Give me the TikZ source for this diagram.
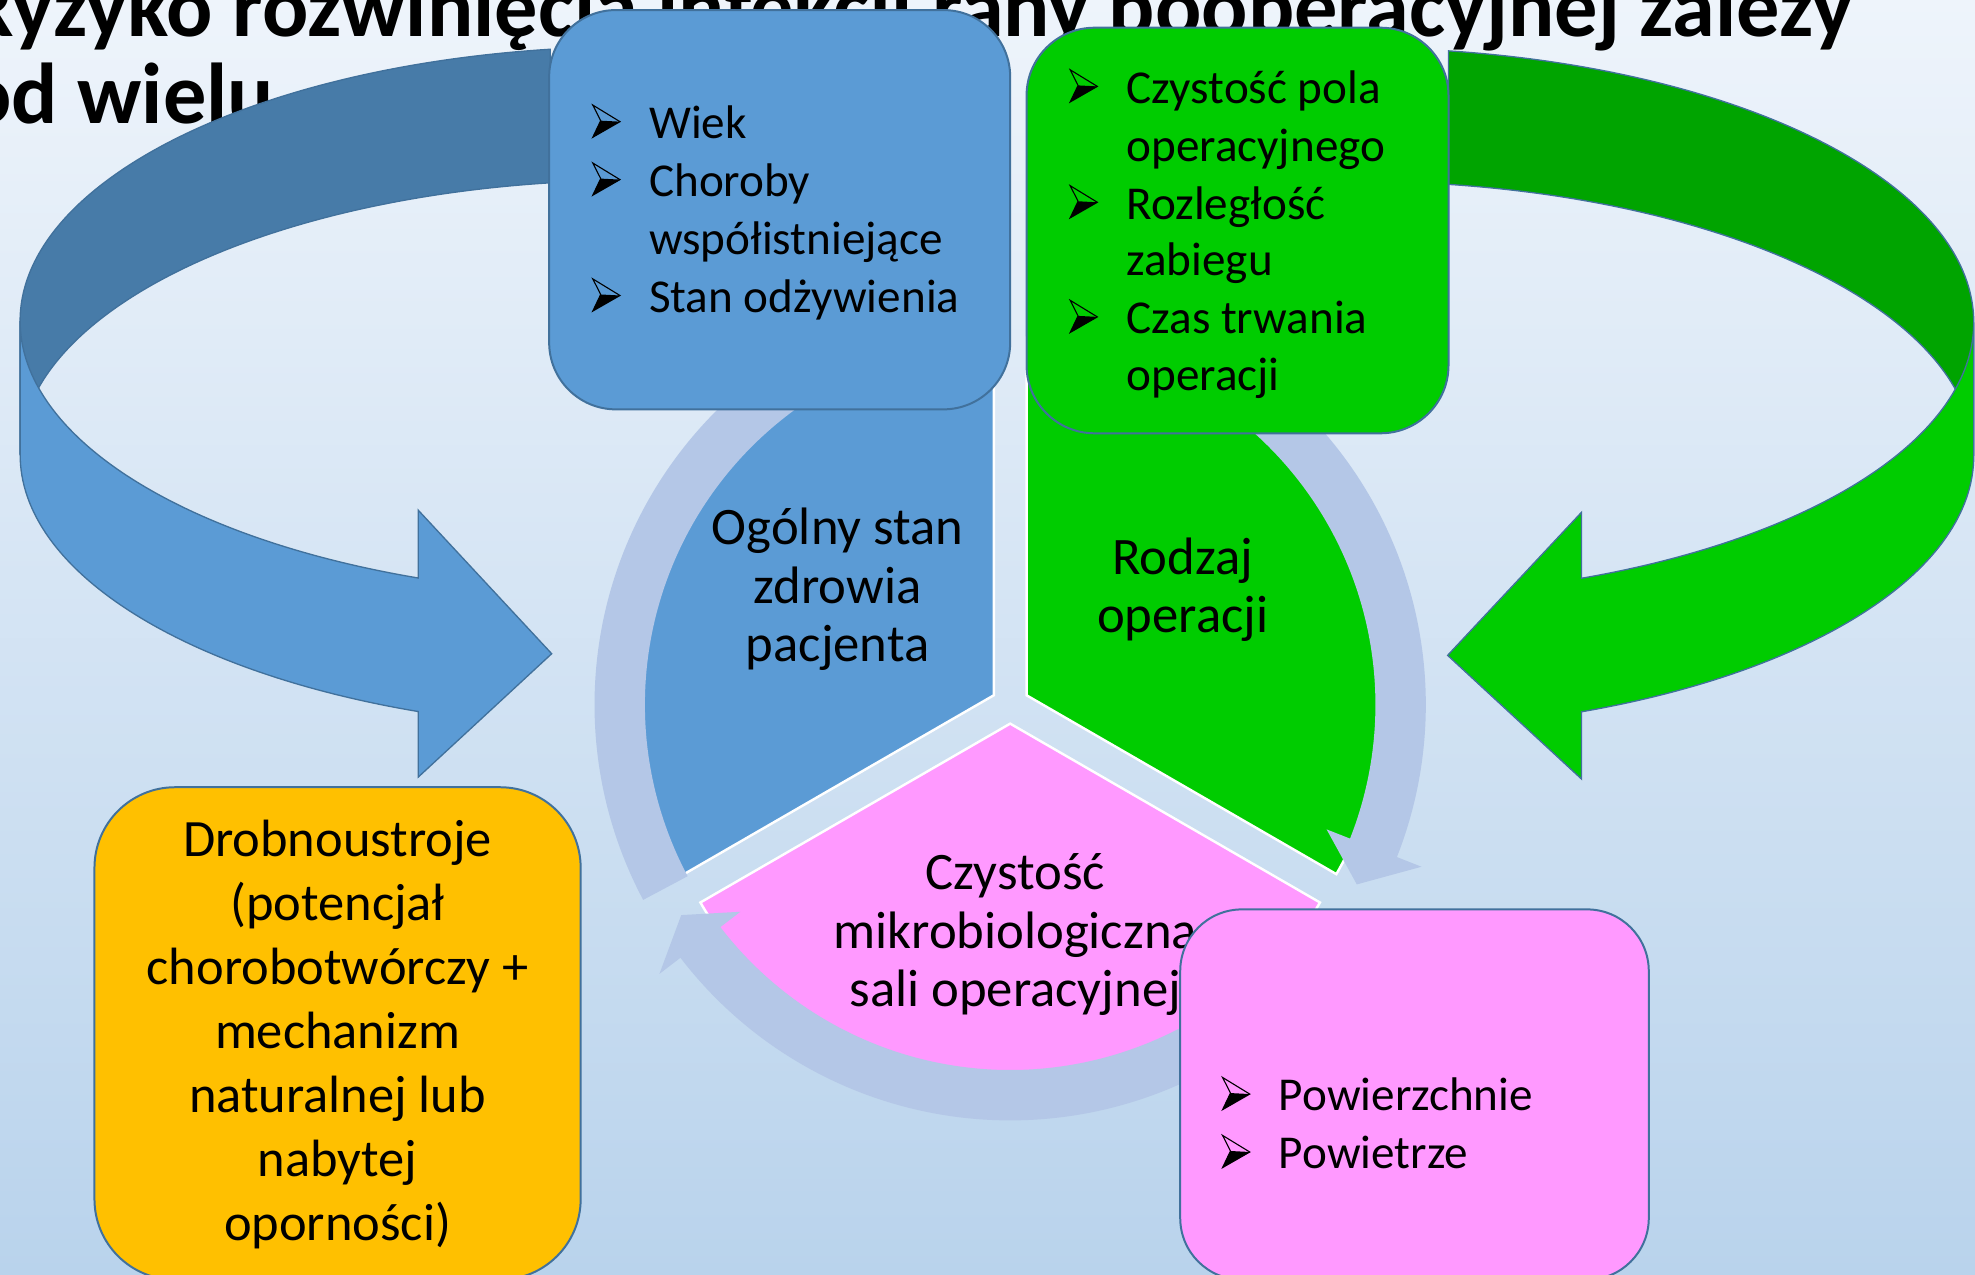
\documentclass[tikz,border=0pt]{standalone}
\usepackage{fontspec}
\setmainfont{Carlito}
\usepackage{xcolor}
\usepackage{tikz}
\definecolor{slideTop}{HTML}{EEF4FB}
\definecolor{slideBottom}{HTML}{B9D3EC}
\definecolor{ringLav}{HTML}{B4C7E7}
\definecolor{boxLine}{HTML}{41719C}
\definecolor{patientBlue}{HTML}{5B9BD5}
\definecolor{patientDark}{HTML}{477BA8}
\definecolor{opGreen}{HTML}{00CC00}
\definecolor{opDark}{HTML}{00A400}
\definecolor{roomPink}{HTML}{FF99FF}
\definecolor{microGold}{HTML}{FFC000}

\newcommand{\ringseg}[3]{%
  \fill[ring] (#1:330) arc[start angle=#1, end angle=#2, radius=330]
    -- (#2:351) -- (#3:310) -- (#2:270) -- (#2:290)
    arc[start angle=#2, end angle=#1, radius=290] -- cycle;}

\tikzset{
  titletext/.style={anchor=base west, inner sep=0pt, font=\bfseries\fontsize{39}{42}\selectfont},
  listtext/.style={anchor=base west, inner sep=0pt, font=\fontsize{21.3}{26.1}\selectfont},
  blocktext/.style={align=center, inner sep=0pt, font=\fontsize{23.8}{26.4}\selectfont},
  box/.style={draw=boxLine, line width=0.9pt, inner sep=0pt},
  ribbon/.style={draw=boxLine, line width=0.6pt},
  sector/.style={draw=white, line width=1.1pt},
  ring/.style={fill=ringLav},
  bulletmark/.pic={
    \draw[line width=0.5pt, line join=miter] (-44.4,-26.6) -- (-22.8,-13.4) -- (-44.4,-1) -- (-38.1,-14.2) -- cycle;
    \fill (-38.1,-14.2) -- (-22.8,-13.4) -- (-44.4,-1) -- cycle;
  }
}

\begin{document}
\begin{tikzpicture}[x=0.2mm, y=-0.2mm]
  \useasboundingbox (0,0) rectangle (1568,1012);
  \clip (0,0) rectangle (1568,1012);
  \shade[top color=slideTop, bottom color=slideBottom] (0,0) rectangle (1568,1012);

  \node[titletext] (titleA) at (-28,29) {Ryzyko rozwinięcia infekcji rany pooperacyjnej zależy};
  \node[titletext] (titleB) at (-28,98) {od wielu};

  % left ribbon
  \filldraw[ribbon, fill=patientDark] (436.9,39.1) arc[start angle=262, end angle=180, x radius=489, y radius=218]
    -- (16,361) arc[start angle=180, end angle=262, x radius=489, y radius=218] -- cycle;
  \filldraw[ribbon, fill=patientBlue] (16,255) arc[start angle=180, end angle=110.72, x radius=489, y radius=218]
    -- (332,405) -- (438,519) -- (332,617) -- (332,564.9)
    arc[start angle=110.72, end angle=180, x radius=489, y radius=218] -- cycle;

  % right ribbon
  \filldraw[ribbon, fill=opDark] (1150,40.4) arc[start angle=278.47, end angle=360, x radius=489, y radius=218]
    -- (1567,362) arc[start angle=360, end angle=278.47, x radius=489, y radius=218] -- cycle;
  \filldraw[ribbon, fill=opGreen] (1567,256) arc[start angle=0, end angle=68.7, x radius=489, y radius=218]
    -- (1255.6,406.7) -- (1149.3,520.3) -- (1255.6,618.5) -- (1255.6,565.1)
    arc[start angle=68.7, end angle=0, x radius=489, y radius=218] -- cycle;

  % cycle
  \filldraw[sector, fill=patientBlue] (789,552) -- ++(150:284) arc[start angle=150, end angle=270, radius=284] -- cycle;
  \filldraw[sector, fill=opGreen] (815,552) -- ++(-90:284) arc[start angle=-90, end angle=30, radius=284] -- cycle;
  \filldraw[sector, fill=roomPink] (802,574.5) -- ++(30:284) arc[start angle=30, end angle=150, radius=284] -- cycle;
  \begin{scope}[shift={(802,559.5)}]
    \ringseg{-75}{21.5}{27.4}
    \ringseg{36}{142.5}{147.4}
    \ringseg{152}{262}{267.4}
  \end{scope}

  \node[blocktext] (healthTxt) at (665,468) {Ogólny stan\\zdrowia\\pacjenta};
  \node[blocktext] (typeTxt) at (939,468) {Rodzaj\\operacji};
  \node[blocktext] (roomTxt) at (806,742) {Czystość\\mikrobiologiczna\\sali operacyjnej};

  \node[box, fill=patientBlue, minimum width=73.2mm, minimum height=63.4mm, rounded corners=10.6mm] (patientBox) at (619,166.5) {};
  \node[box, fill=opGreen, minimum width=67mm, minimum height=64.4mm, rounded corners=10.8mm] (opBox) at (982.5,183) {};
  \node[box, fill=microGold, minimum width=77.2mm, minimum height=78.2mm, rounded corners=12.8mm] (microBox) at (268,820.5) {};
  \node[box, fill=roomPink, minimum width=74.4mm, minimum height=58.8mm, rounded corners=9.8mm] (roomBox) at (1123,869) {};

  \node[listtext] (patientA) at (515,110) {Wiek};
  \node[listtext] (patientB) at (515,156) {Choroby};
  \node[listtext] (patientC) at (515,202) {współistniejące};
  \node[listtext] (patientD) at (515,248) {Stan odżywienia};
  \pic at (patientA.base west) {bulletmark};
  \pic at (patientB.base west) {bulletmark};
  \pic at (patientD.base west) {bulletmark};

  \node[listtext] (opA) at (894,82) {Czystość pola};
  \node[listtext] (opB) at (894,128) {operacyjnego};
  \node[listtext] (opC) at (894,174) {Rozległość};
  \node[listtext] (opD) at (894,219) {zabiegu};
  \node[listtext] (opE) at (894,265) {Czas trwania};
  \node[listtext] (opF) at (894,310) {operacji};
  \pic at (opA.base west) {bulletmark};
  \pic at (opC.base west) {bulletmark};
  \pic at (opE.base west) {bulletmark};

  \node[listtext] (roomA) at (1015,882) {Powierzchnie};
  \node[listtext] (roomB) at (1015,928) {Powietrze};
  \pic at (roomA.base west) {bulletmark};
  \pic at (roomB.base west) {bulletmark};

  \node[blocktext, font=\fontsize{23.7}{28.9}\selectfont] (microTxt) at (268,821)
    {Drobnoustroje\\(potencjał\\chorobotwórczy +\\mechanizm\\naturalnej lub\\nabytej\\oporności)};
\end{tikzpicture}
\end{document}
